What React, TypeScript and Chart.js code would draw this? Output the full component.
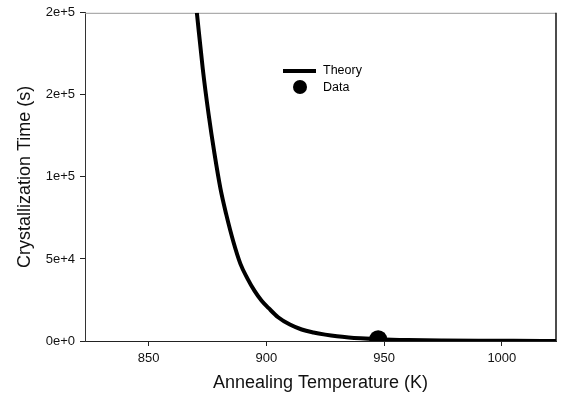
import React, { useEffect, useRef } from "react";
import { Chart, registerables } from "chart.js";

Chart.register(...registerables);

const theoryTemp = [870.5, 873, 875.5, 878, 880.5, 883, 886, 889, 892, 895, 898, 901, 905, 910, 915, 920, 925, 930, 935, 940, 948, 960, 975, 990, 1005, 1023];
const theoryTime = [200000, 166000, 138000, 114000, 93000, 77000, 60500, 47000, 38000, 30500, 24500, 20000, 14500, 10000, 7000, 5200, 3900, 2900, 2200, 1700, 1100, 600, 300, 150, 80, 40];
const dataTemp = [947.5];
const dataTime = [1100];
const xTicks = [850, 900, 950, 1000];
const xTickLabels = ["850", "900", "950", "1000"];
const yTicks = [0, 50000, 100000, 150000, 200000];
const yTickLabels = ["0e+0", "5e+4", "1e+5", "2e+5", "2e+5"];
const legendLabels = ["Theory", "Data"];

const FONT = "'Liberation Sans', Arial, sans-serif";

const framePlugin = {
  id: "frame",
  beforeDatasetsDraw(chart: any) {
    const { ctx, chartArea: a } = chart;
    ctx.save();
    ctx.lineWidth = 1;
    ctx.strokeStyle = "#999";
    ctx.beginPath();
    ctx.moveTo(a.left, a.top + 0.5);
    ctx.lineTo(a.right, a.top + 0.5);
    ctx.stroke();
    ctx.strokeStyle = "#111";
    ctx.lineWidth = 1.5;
    ctx.beginPath();
    ctx.moveTo(a.right, a.top);
    ctx.lineTo(a.right, a.bottom);
    ctx.stroke();
    ctx.restore();
  },
  afterDraw(chart: any) {
    const { ctx } = chart;
    ctx.save();
    ctx.strokeStyle = "#000";
    ctx.lineWidth = 4;
    ctx.beginPath();
    ctx.moveTo(283, 71);
    ctx.lineTo(316, 71);
    ctx.stroke();
    ctx.fillStyle = "#000";
    ctx.beginPath();
    ctx.arc(300, 87, 7, 0, Math.PI * 2);
    ctx.fill();
    ctx.font = `12.5px ${FONT}`;
    ctx.textBaseline = "middle";
    ctx.textAlign = "left";
    ctx.fillText(legendLabels[0], 323, 71);
    ctx.fillText(legendLabels[1], 323, 88);
    ctx.restore();
  },
};

export default function App() {
  const ref = useRef<HTMLCanvasElement>(null);
  useEffect(() => {
    document.body.style.margin = "0";
    const chart = new Chart(ref.current!, {
      type: "scatter",
      data: {
        datasets: [
          {
            label: legendLabels[1],
            data: dataTemp.map((x, i) => ({ x, y: dataTime[i] })),
            pointRadius: 9,
            pointBackgroundColor: "#000",
            pointBorderWidth: 0,
            showLine: false,
          },
          {
            label: legendLabels[0],
            data: theoryTemp.map((x, i) => ({ x, y: theoryTime[i] })),
            showLine: true,
            borderColor: "#000",
            borderWidth: 4,
            pointRadius: 0,
            cubicInterpolationMode: "monotone",
          },
        ],
      },
      options: {
        animation: false,
        responsive: false,
        layout: { padding: { left: 0, right: 8, top: 11, bottom: 0 } },
        plugins: { legend: { display: false }, tooltip: { enabled: false } },
        scales: {
          x: {
            type: "linear",
            min: 823,
            max: 1023,
            afterBuildTicks: (s: any) => {
              s.ticks = xTicks.map((v) => ({ value: v }));
            },
            afterFit: (s: any) => {
              s.height = 61;
            },
            grid: { drawOnChartArea: false, tickLength: 5, color: "#222" },
            border: { color: "#222", width: 1 },
            ticks: {
              color: "#111",
              font: { family: FONT, size: 13 },
              padding: 5,
              callback: (v: any) => {
                const i = xTicks.indexOf(Number(v));
                return i >= 0 ? xTickLabels[i] : "";
              },
            },
            title: {
              display: true,
              text: "Annealing Temperature (K)",
              color: "#111",
              font: { family: FONT, size: 18 },
              padding: { top: 0, bottom: 8 },
            },
          },
          y: {
            type: "linear",
            min: 0,
            max: 200000,
            afterBuildTicks: (s: any) => {
              s.ticks = yTicks.map((v) => ({ value: v }));
            },
            afterFit: (s: any) => {
              s.width = 85;
            },
            grid: { drawOnChartArea: false, tickLength: 5, color: "#222" },
            border: { color: "#333", width: 1 },
            ticks: {
              color: "#111",
              font: { family: FONT, size: 13 },
              padding: 5,
              callback: (v: any) => {
                const i = yTicks.indexOf(Number(v));
                return i >= 0 ? yTickLabels[i] : "";
              },
            },
            title: {
              display: true,
              text: "Crystallization Time (s)",
              color: "#111",
              font: { family: FONT, size: 18 },
              padding: { top: 14, bottom: 0 },
            },
          },
        },
      },
      plugins: [framePlugin],
    } as any);
    return () => chart.destroy();
  }, []);
  return <canvas ref={ref} width={565} height={402} style={{ display: "block" }} />;
}
